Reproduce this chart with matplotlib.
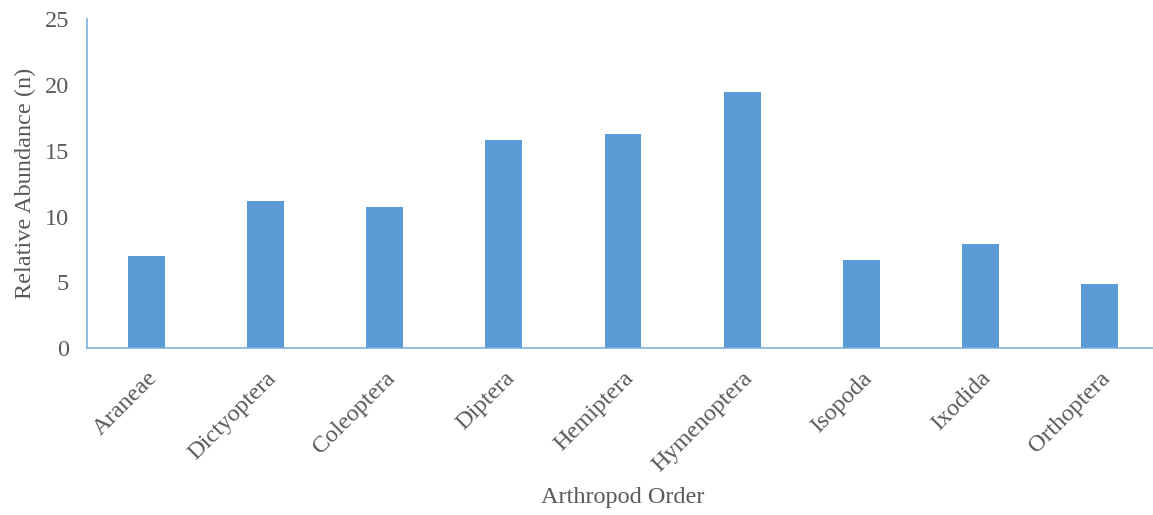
import matplotlib.pyplot as plt
import numpy as np

orders = ['Araneae', 'Dictyoptera', 'Coleoptera', 'Diptera', 'Hemiptera',
          'Hymenoptera', 'Isopoda', 'Ixodida', 'Orthoptera']
abundance = [7.0, 11.2, 10.7, 15.8, 16.3, 19.45, 6.7, 7.9, 4.85]

plt.rcParams['font.family'] = ['Liberation Serif', 'DejaVu Serif']
textcol = '#595959'
barcol = '#5B9BD5'

fig = plt.figure(figsize=(11.53, 5.15), dpi=100)
ax = fig.add_axes([0.0755, 0.324, 0.9297, 0.639])

x = np.arange(len(orders))
ax.bar(x, abundance, width=0.31, color=barcol, zorder=2)

ax.set_xlim(-0.5, len(orders) - 0.5)
ax.set_ylim(0, 25)
ax.set_yticks([0, 5, 10, 15, 20, 25])
ax.set_xticks(x)
ax.set_xticklabels(orders, rotation=45, ha='right', rotation_mode='anchor')

for s in ['top', 'right']:
    ax.spines[s].set_visible(False)
for s in ['left', 'bottom']:
    ax.spines[s].set_color('#7FB0DE')
    ax.spines[s].set_linewidth(1.2)

ax.tick_params(axis='both', length=0, labelsize=17.5, colors=textcol)
ax.tick_params(axis='y', pad=13)
ax.tick_params(axis='x', pad=14)

ax.set_ylabel('Relative Abundance (n)', fontsize=17.5, color=textcol, labelpad=6)
ax.set_xlabel('Arthropod Order', fontsize=17.5, color=textcol, labelpad=8)

plt.savefig('out.png', dpi=100)
